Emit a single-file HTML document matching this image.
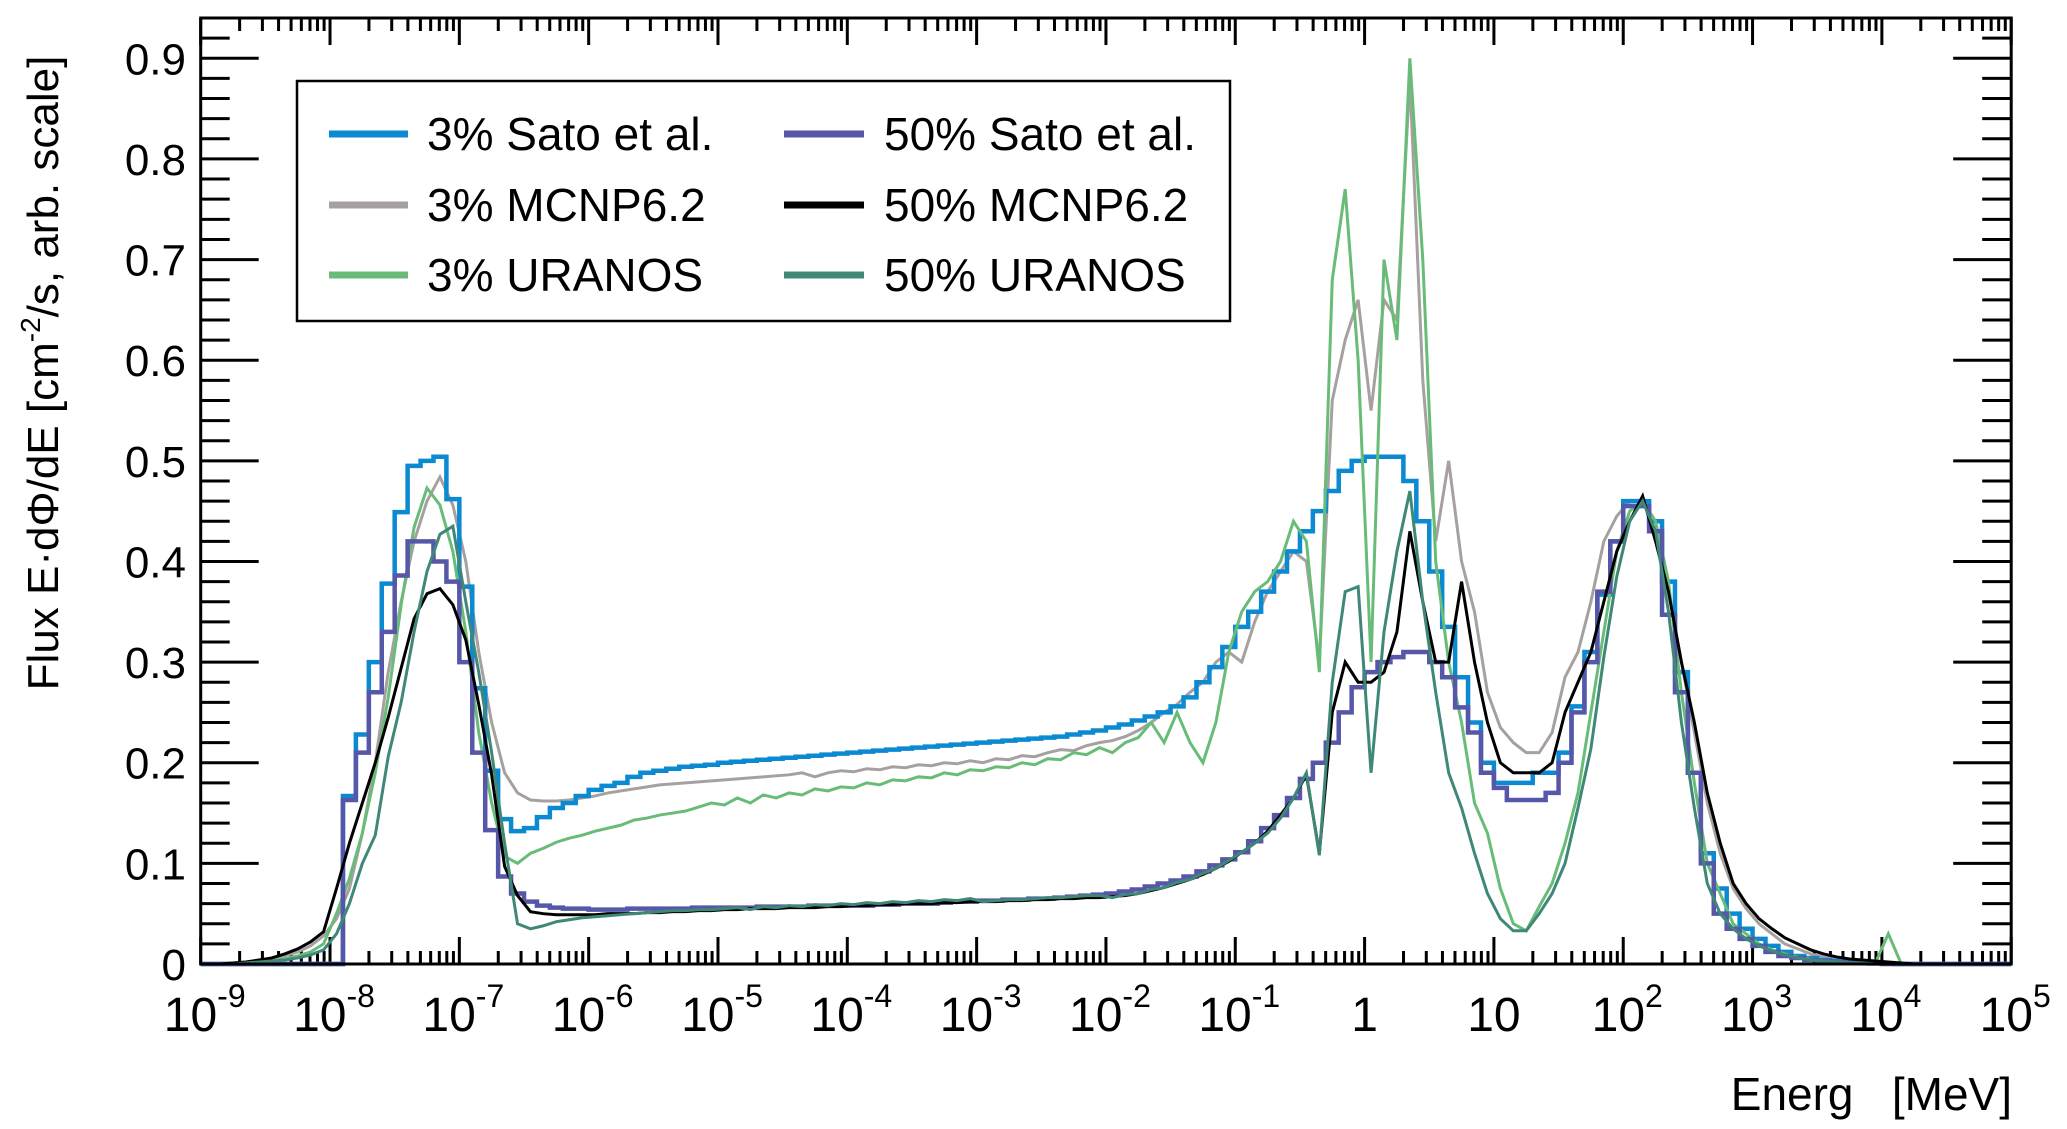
<!DOCTYPE html>
<html><head><meta charset="utf-8"><style>
html,body{margin:0;padding:0;background:#fff;}
svg{display:block;font-family:"Liberation Sans",Arial,sans-serif;}
</style></head><body>
<svg id="chart" width="2067" height="1129" viewBox="0 0 2067 1129" xmlns="http://www.w3.org/2000/svg">
<rect x="0" y="0" width="2067" height="1129" fill="#fff"/>
<g id="ticks"></g>
<g id="series"></g>
<rect x="200.7" y="18" width="1810.5" height="946" fill="none" stroke="#000" stroke-width="3"/>
<g id="labels"></g>
<text transform="translate(58,373) rotate(-90)" text-anchor="middle" font-size="44" fill="#000">Flux E·dΦ/dE [cm<tspan dy="-18" font-size="28">-2</tspan><tspan dy="18">/s, arb. scale]</tspan></text>
<text x="2012" y="1110" text-anchor="end" font-size="46" fill="#000" xml:space="preserve">Energ   [MeV]</text>
<g>
<rect x="297" y="81" width="933" height="240" fill="#fff" stroke="#000" stroke-width="2.5"/>
<line x1="329" y1="134" x2="408" y2="134" stroke="#0b8ad2" stroke-width="7"/>
<text x="427" y="150" font-size="46">3% Sato et al.</text>
<line x1="329" y1="205" x2="408" y2="205" stroke="#a7a0a0" stroke-width="7"/>
<text x="427" y="221" font-size="46">3% MCNP6.2</text>
<line x1="329" y1="275" x2="408" y2="275" stroke="#68bc78" stroke-width="7"/>
<text x="427" y="291" font-size="46">3% URANOS</text>
<line x1="784" y1="134" x2="864" y2="134" stroke="#5657a9" stroke-width="7"/>
<text x="884" y="150" font-size="46">50% Sato et al.</text>
<line x1="784" y1="205" x2="864" y2="205" stroke="#000" stroke-width="7"/>
<text x="884" y="221" font-size="46">50% MCNP6.2</text>
<line x1="784" y1="275" x2="864" y2="275" stroke="#3f8878" stroke-width="7"/>
<text x="884" y="291" font-size="46">50% URANOS</text>
</g>
</svg>
<script>
// Bins: 0.1 decade wide, starting at log10(E) = -9
const binStart = -9;
const binWidth = 0.1;
const xDecades = [-9,-8,-7,-6,-5,-4,-3,-2,-1,0,1,2,3,4,5];
const xTickLabels = ["10|-9","10|-8","10|-7","10|-6","10|-5","10|-4","10|-3","10|-2","10|-1","1|","10|","10|2","10|3","10|4","10|5"];
const yTicks = [0,0.1,0.2,0.3,0.4,0.5,0.6,0.7,0.8,0.9];
const yTickLabels = ["0","0.1","0.2","0.3","0.4","0.5","0.6","0.7","0.8","0.9"];

const sato3 = [
0,0,0,0,0,0,0,0,0,0,
0,.167,.228,.30,.378,.449,.495,.50,.504,.462,
.375,.274,.192,.144,.132,.135,.146,.155,.16,.167,
.173,.177,.18,.186,.19,.192,.194,.196,.197,.198,
.20,.201,.202,.203,.204,.205,.206,.207,.208,.209,
.21,.211,.212,.213,.214,.215,.216,.217,.218,.219,
.22,.221,.222,.223,.224,.225,.226,.228,.23,.232,
.235,.238,.242,.246,.25,.256,.265,.28,.295,.315,
.335,.35,.37,.39,.41,.43,.45,.47,.49,.50,
.504,.504,.504,.48,.44,.39,.335,.285,.24,.20,
.18,.18,.18,.19,.19,.21,.256,.31,.367,.42,
.46,.46,.44,.38,.29,.19,.11,.075,.05,.035,
.025,.018,.012,.008,.006,.004,.003,.002,.0015,.001,
.0005,0,0,0,0,0,0,0,0,0];
const mcnp3 = [
0,0,.001,.002,.003,.005,.008,.012,.018,.028,
.045,.075,.13,.2,.29,.36,.42,.46,.484,.456,
.40,.31,.24,.19,.17,.163,.162,.162,.163,.165,
.167,.17,.172,.174,.176,.178,.179,.18,.181,.182,
.183,.184,.185,.186,.187,.188,.19,.186,.19,.192,
.191,.194,.193,.196,.195,.198,.197,.2,.199,.202,
.2,.204,.203,.207,.206,.21,.213,.212,.217,.22,
.222,.226,.232,.24,.25,.258,.27,.28,.3,.31,
.30,.34,.37,.39,.41,.40,.30,.56,.62,.66,
.55,.66,.64,.88,.58,.42,.50,.40,.35,.27,
.235,.22,.21,.21,.23,.285,.31,.36,.42,.445,
.46,.46,.43,.37,.3,.23,.16,.11,.075,.055,
.04,.03,.02,.015,.01,.007,.005,.003,.002,.001,
0,0,0,0,0,0,0,0,0,0];
const uranos3 = [
0,0,0,.001,.002,.003,.005,.008,.012,.02,
.05,.085,.13,.19,.265,.357,.434,.473,.456,.41,
.33,.23,.16,.107,.1,.11,.115,.121,.125,.128,
.132,.135,.138,.143,.145,.148,.15,.152,.156,.16,
.158,.165,.16,.168,.165,.17,.168,.174,.172,.176,
.175,.18,.178,.183,.182,.186,.185,.19,.188,.193,
.192,.196,.195,.2,.198,.204,.203,.21,.208,.215,
.21,.22,.225,.24,.22,.25,.22,.2,.24,.31,
.35,.37,.38,.40,.44,.42,.29,.68,.77,.60,
.30,.70,.62,.90,.70,.40,.30,.24,.16,.13,
.075,.04,.033,.057,.08,.12,.17,.25,.33,.41,
.45,.46,.44,.38,.27,.18,.1,.07,.04,.03,
.02,.014,.01,.007,.005,.003,.002,.0015,.001,.001,
.03,0,0,0,0,0,0,0,0,0];
const sato50 = [
0,0,0,0,0,0,0,0,0,0,
0,.163,.21,.27,.33,.386,.42,.42,.40,.38,
.30,.21,.133,.087,.07,.062,.058,.056,.055,.055,
.054,.054,.054,.055,.055,.055,.055,.055,.056,.056,
.056,.056,.056,.057,.057,.057,.057,.058,.058,.058,
.058,.058,.059,.059,.06,.06,.06,.061,.062,.062,
.063,.063,.064,.064,.065,.065,.066,.067,.068,.069,
.07,.072,.074,.077,.08,.083,.087,.092,.098,.104,
.111,.122,.135,.148,.165,.184,.2,.22,.25,.275,
.29,.30,.305,.31,.31,.30,.285,.255,.23,.19,
.175,.163,.163,.163,.17,.2,.25,.30,.37,.42,
.455,.455,.43,.347,.27,.19,.10,.05,.035,.025,
.018,.012,.008,.006,.004,.003,.002,.0015,.001,.0005,
0,0,0,0,0,0,0,0,0,0];
const mcnp50 = [
0,0,.001,.002,.004,.006,.01,.015,.022,.032,
.075,.12,.16,.2,.245,.294,.343,.368,.373,.357,
.322,.258,.188,.097,.068,.052,.05,.049,.049,.049,
.049,.05,.05,.05,.051,.051,.052,.052,.053,.053,
.054,.054,.055,.055,.055,.056,.056,.056,.057,.057,
.058,.058,.059,.059,.06,.06,.06,.061,.061,.062,
.062,.062,.063,.063,.064,.064,.065,.065,.066,.066,
.067,.068,.07,.073,.076,.08,.084,.089,.095,.102,
.111,.12,.132,.148,.165,.188,.11,.25,.30,.28,
.28,.29,.33,.43,.36,.30,.30,.38,.30,.24,
.2,.19,.19,.19,.2,.25,.28,.31,.36,.41,
.44,.465,.42,.37,.30,.24,.17,.12,.08,.06,
.045,.035,.026,.02,.014,.01,.007,.005,.004,.003,
.002,.001,0,0,0,0,0,0,0,0];
const uranos50 = [
0,0,0,.001,.002,.003,.004,.006,.009,.014,
.03,.06,.1,.128,.206,.26,.33,.39,.427,.435,
.36,.29,.21,.12,.04,.035,.038,.042,.044,.046,
.047,.048,.049,.05,.051,.052,.053,.053,.054,.054,
.055,.056,.054,.057,.056,.058,.057,.059,.058,.06,
.059,.061,.06,.062,.061,.063,.062,.064,.063,.065,
.062,.063,.064,.064,.065,.066,.066,.067,.068,.068,
.066,.069,.07,.074,.076,.081,.084,.09,.095,.103,
.111,.12,.13,.145,.165,.19,.108,.28,.37,.375,
.19,.33,.41,.47,.36,.27,.19,.155,.11,.07,
.045,.033,.033,.05,.07,.1,.155,.214,.305,.385,
.44,.46,.43,.35,.24,.155,.08,.05,.035,.025,
.018,.013,.009,.006,.004,.003,.002,.001,.001,0,
0,0,0,0,0,0,0,0,0,0];

const X0 = 200.7, X1 = 2011.2, Y0 = 964, Y1 = 58.3;
function xScale(logE){ return X0 + (logE - (-9)) * (X1 - X0) / 14; }
function yScale(v){ return Y0 - v * (Y0 - Y1) / 0.9; }
const NS = "http://www.w3.org/2000/svg";
function mk(tag, attrs, parent){
  const e = document.createElementNS(NS, tag);
  for (const k in attrs) e.setAttribute(k, attrs[k]);
  parent.appendChild(e);
  return e;
}
const gT = document.getElementById('ticks');
const gS = document.getElementById('series');
const gL = document.getElementById('labels');

let td = "";
xDecades.forEach((d) => {
  const x = xScale(d);
  td += `M${x},${Y0}v-27M${x},18v27`;
  if (d < 5) for (let k = 2; k <= 9; k++) {
    const xm = xScale(d + Math.log10(k));
    td += `M${xm},${Y0}v-13M${xm},18v13`;
  }
});
for (let i = 0; i <= 47; i++) {
  const v = i * 0.02;
  const y = yScale(v);
  if (y < 18) continue;
  const len = (i % 5 === 0) ? 58 : 29;
  td += `M${X0},${y}h${len}M${X1},${y}h${-len}`;
}
const tickPath = mk('path', {d: td, stroke: '#000', 'stroke-width': 3, fill: 'none'}, gT);



xDecades.forEach((d, i) => {
  const parts = xTickLabels[i].split('|');
  const t = mk('text', {x: xScale(d), y: 1031, 'font-size': 48, 'text-anchor': 'middle'}, gL);
  
  
  if (parts[1]) {
    t.setAttribute('x', xScale(d) + 4);
    t.textContent = parts[0];
    const s = document.createElementNS(NS, 'tspan');
    s.setAttribute('dy', -24);
    s.setAttribute('font-size', 32);
    s.textContent = parts[1];
    t.appendChild(s);
  } else {
    t.textContent = parts[0];
  }
});
yTicks.forEach((v, i) => {
  const t = mk('text', {x: 186, y: yScale(v) + 16, 'font-size': 44, 'text-anchor': 'end'}, gL);
  
  
  t.textContent = yTickLabels[i];
});

function stepPath(vals){
  let d = "";
  vals.forEach((v, i) => {
    const xa = xScale(binStart + i * binWidth), xb = xScale(binStart + (i + 1) * binWidth);
    const y = yScale(v);
    d += (i === 0 ? `M${xa},${y}` : `L${xa},${y}`) + `L${xb},${y}`;
  });
  return d;
}
function linePath(vals){
  let d = "";
  vals.forEach((v, i) => {
    const x = xScale(binStart + (i + 0.5) * binWidth);
    d += (i === 0 ? 'M' : 'L') + x + ',' + yScale(v);
  });
  return d;
}
function drawSeries(name, d, color, w){
  const p = mk('path', {d: d, stroke: color, 'stroke-width': w, fill: 'none', 'stroke-linejoin': 'miter'}, gS);
  
  
}
drawSeries('series-3-mcnp', linePath(mcnp3), '#a7a0a0', 3);
drawSeries('series-3-sato', stepPath(sato3), '#0b8ad2', 4.5);
drawSeries('series-3-uranos', linePath(uranos3), '#68bc78', 3);
drawSeries('series-50-sato', stepPath(sato50), '#5657a9', 4.5);
drawSeries('series-50-mcnp', linePath(mcnp50), '#000000', 3);
drawSeries('series-50-uranos', linePath(uranos50), '#3f8878', 3);
</script>
</body></html>
